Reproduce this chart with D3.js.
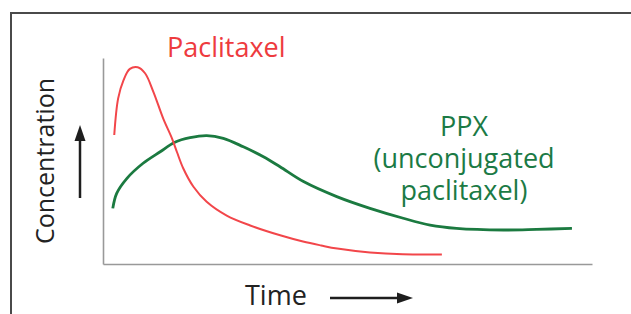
<!DOCTYPE html>
<html>
<head>
<meta charset="utf-8">
<script src="https://cdn.jsdelivr.net/npm/d3@7"></script>
<style>
  body { margin: 0; background: #fff; }
  svg { display: block; font-family: "Open Sans", sans-serif; }
</style>
</head>
<body>
<svg width="631" height="314"></svg>
<script>
// Time in arbitrary units (0-100), concentration in arbitrary units (0-100)
const paclitaxelTime = [2.3, 3.1, 4.2, 5.5, 7.1, 8.6, 10.3, 12.3, 14.1, 15.1, 16.4, 18.5, 21.2, 25.3, 30.1, 36.4, 40.9, 44.6, 47.9, 54.6, 61.3, 69.3];
const paclitaxelConc = [62.6, 80.4, 89.3, 94.7, 95.5, 92.6, 83.6, 70.7, 61.0, 54.5, 46.5, 37.5, 30.2, 23.5, 18.7, 13.8, 10.9, 9.0, 7.5, 5.6, 4.7, 4.6];

const ppxTime = [2.0, 2.8, 4.9, 8.2, 11.7, 14.7, 17.8, 21.2, 24.6, 28.7, 32.8, 36.2, 41.0, 47.8, 54.6, 61.4, 66.9, 72.3, 81.9, 88.7, 95.9];
const ppxConc = [27.0, 34.3, 41.6, 48.9, 54.5, 59.1, 61.3, 62.3, 61.0, 56.9, 52.1, 47.2, 40.0, 32.7, 27.0, 22.2, 18.9, 17.3, 16.5, 16.8, 17.3];

const ppxLabel = ["PPX", "(unconjugated", "paclitaxel)"];

const svg = d3.select("svg");
const width = +svg.attr("width");
const height = +svg.attr("height");

// frame around the figure (open on the right and bottom)
svg.append("path")
   .attr("d", `M11,${height} V13 H${width}`)
   .attr("fill", "none")
   .attr("stroke", "#4a4a4a")
   .attr("stroke-width", 2);

const x = d3.scaleLinear().domain([0, 100]).range([103, 592]);
const y = d3.scaleLinear().domain([0, 100]).range([264, 58]);

// bare axes, no ticks
svg.append("g")
   .attr("transform", `translate(0,${y(0)})`)
   .call(d3.axisBottom(x).tickValues([]).tickSizeOuter(0))
   .select(".domain").attr("stroke", "#999").attr("stroke-width", 1.6);

svg.append("g")
   .attr("transform", `translate(${x(0)},0)`)
   .call(d3.axisLeft(y).tickValues([]).tickSizeOuter(0))
   .select(".domain").attr("stroke", "#999").attr("stroke-width", 1.6);

const line = d3.line()
   .x(d => x(d[0]))
   .y(d => y(d[1]))
   .curve(d3.curveCatmullRom.alpha(0.5));

svg.append("path")
   .datum(d3.zip(ppxTime, ppxConc))
   .attr("d", line)
   .attr("fill", "none")
   .attr("stroke", "#1b7a40")
   .attr("stroke-width", 2.8);

svg.append("path")
   .datum(d3.zip(paclitaxelTime, paclitaxelConc))
   .attr("d", line)
   .attr("fill", "none")
   .attr("stroke", "#f2464a")
   .attr("stroke-width", 2);

// labels
svg.append("text")
   .attr("x", 167)
   .attr("y", 57)
   .attr("fill", "#ee3b3e")
   .attr("font-size", 27)
   .text("Paclitaxel");

// three-line PPX label as one text block
svg.append("text")
   .attr("x", 464)
   .attr("y", 136)
   .attr("text-anchor", "middle")
   .attr("fill", "#1b7a45")
   .attr("font-size", 27)
   .selectAll("tspan")
   .data(ppxLabel)
   .join("tspan")
   .attr("x", 464)
   .attr("dy", (d, i) => i === 0 ? 0 : 32)
   .text(d => d);

svg.append("text")
   .attr("transform", "translate(54,161) rotate(-90)")
   .attr("text-anchor", "middle")
   .attr("fill", "#222")
   .attr("font-size", 25)
   .text("Concentration");

svg.append("text")
   .attr("x", 245)
   .attr("y", 305)
   .attr("fill", "#222")
   .attr("font-size", 27)
   .text("Time");

// arrows
const arrowColor = "#1e1e1e";
svg.append("line")
   .attr("x1", 80).attr("y1", 198).attr("x2", 80).attr("y2", 136)
   .attr("stroke", arrowColor).attr("stroke-width", 2.5);
svg.append("path")
   .attr("d", "M80,125 L85.5,141 L74.5,141 Z")
   .attr("fill", arrowColor);

svg.append("line")
   .attr("x1", 330).attr("y1", 298).attr("x2", 400).attr("y2", 298)
   .attr("stroke", arrowColor).attr("stroke-width", 2.5);
svg.append("path")
   .attr("d", "M413,298 L397,292.5 L397,303.5 Z")
   .attr("fill", arrowColor);
</script>
</body>
</html>
